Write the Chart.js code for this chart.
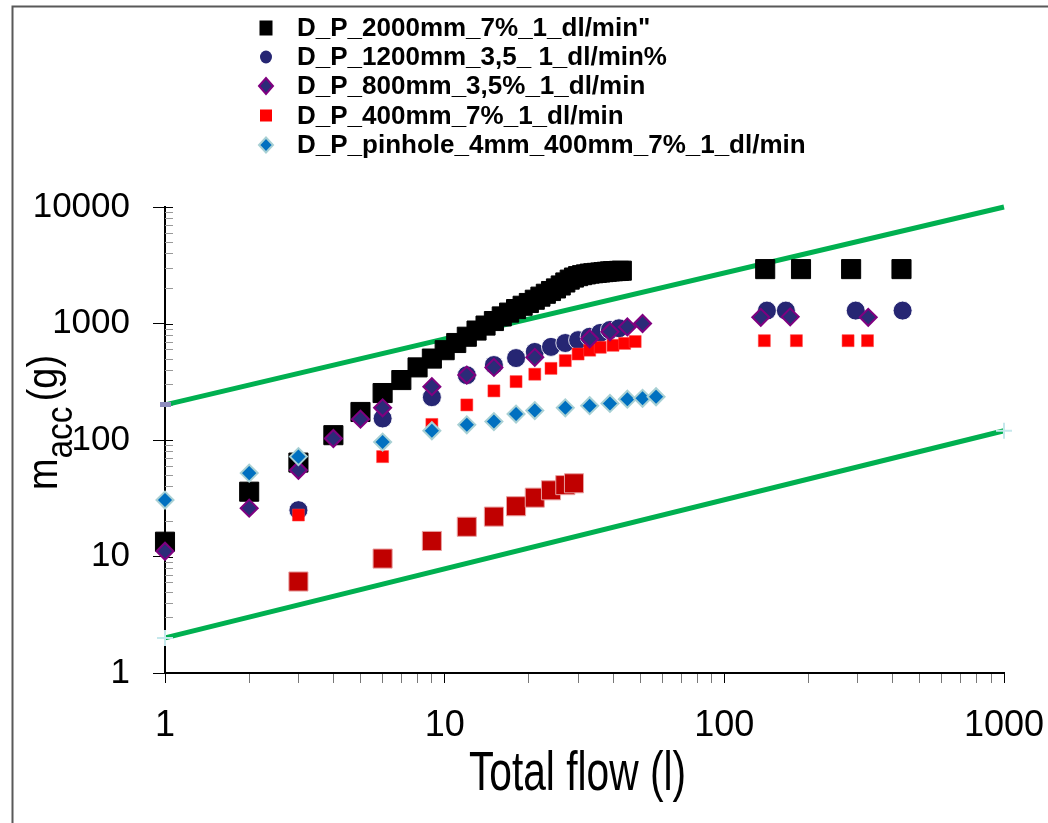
<!DOCTYPE html>
<html>
<head>
<meta charset="utf-8">
<script src="https://cdn.jsdelivr.net/npm/chart.js@4.4.1/dist/chart.umd.min.js"></script>
<style>html,body{margin:0;padding:0;background:#ffffff;}canvas{display:block;}</style>
</head>
<body>
<canvas id="c" width="1048" height="823"></canvas>
<script>
// ---------- data ----------
const seriesNames = [
  'D_P_2000mm_7%_1_dl/min"',
  'D_P_1200mm_3,5_ 1_dl/min%',
  'D_P_800mm_3,5%_1_dl/min',
  'D_P_400mm_7%_1_dl/min',
  'D_P_pinhole_4mm_400mm_7%_1_dl/min'
];
const xTitle = 'Total flow (l)';

const x2000 = [1,2,3,4,5,6,7,8,9,10,11,12,13,14,15,16,17,18,19,20,21,22,23,24,25,26,27,28,29,30,31,32,33,34,35,36,37,38,39,40,41,42,43,140,188,284,430];
const y2000 = [13.4,36,64,110,174,253,327,420,500,590,680,770,870,960,1050,1150,1240,1330,1420,1500,1600,1700,1800,1900,2000,2120,2250,2380,2480,2550,2600,2640,2680,2700,2720,2740,2760,2780,2800,2810,2820,2830,2840,2930,2930,2930,2930];

const x1200 = [3,6,9,12,15,18,21,24,27,30,33,36,39,42,142,166,295,434];
const y1200 = [25,153,233,360,440,505,570,630,680,720,770,830,880,910,1290,1290,1290,1290];

const x800 = [1,2,3,4,5,6,9,12,15,21,33,39,45,51,135,172,327];
const y800 = [11.1,26,55,103,151,189,287,361,420,512,740,850,935,1000,1130,1140,1130];

const x400 = [3,6,9,12,15,18,21,24,27,30,33,36,40,44,48,139,181,277,325];
const y400 = [22.7,72,136,200,264,317,367,412,480,547,590,625,650,675,700,712,712,712,712];

const xPinhole = [1,2,3,6,9,12,15,18,21,27,33,39,45,51,57];
const yPinhole = [30.5,52,72,96,120,135,144,167,179,189,197,206,224,228,235];

const xExtra = [3,6,9,12,15,18,21,24,27,29];
const yExtra = [6.1,9.6,13.6,18,22,27,32,37,41,42.5];

const xUpperLine = [1,1000];
const yUpperLine = [200,10000];
const xLowerLine = [1,1000];
const yLowerLine = [2,120];

const xTickValues = [1,2,3,4,5,6,7,8,9,10,20,30,40,50,60,70,80,90,100,200,300,400,500,600,700,800,900,1000];
const yTickValues = [1,2,3,4,5,6,7,8,9,10,20,30,40,50,60,70,80,90,100,200,300,400,500,600,700,800,900,1000,2000,3000,4000,5000,6000,7000,8000,9000,10000];
const xTickLabels = ['1','10','100','1000'];
const yTickLabels = ['1','10','100','1000','10000'];

// ---------- helpers ----------
const FONT = '"Liberation Sans", Arial, Helvetica, sans-serif';
function pts(xs, ys){ return xs.map((x,i)=>({x:x, y:ys[i]})); }
function isMajor(v){ const l = Math.log10(v); return Math.abs(l - Math.round(l)) < 1e-9; }
function labelFor(v, labels){ const s = String(Math.round(v)); return labels.includes(s) ? s : ''; }

const upperMarker = document.createElement('canvas');
upperMarker.width = 11; upperMarker.height = 5;
(function(){ const g = upperMarker.getContext('2d'); g.fillStyle = '#8E8EBE'; g.fillRect(0,0,11,5); })();

const framePlugin = {
  id: 'frame',
  beforeDraw(chart){
    const ctx = chart.ctx;
    ctx.save();
    ctx.strokeStyle = '#595959'; ctx.lineWidth = 2;
    ctx.beginPath();
    ctx.moveTo(12.5, 823); ctx.lineTo(12.5, 6.5); ctx.lineTo(1048, 6.5);
    ctx.stroke();
    ctx.restore();
  }
};

const innerTicksPlugin = {
  id: 'innerTicks',
  beforeDatasetsDraw(chart){
    const ctx = chart.ctx, ys = chart.scales.y, left = chart.chartArea.left;
    ctx.save();
    ys.ticks.forEach(t => {
      const p = Math.round(ys.getPixelForValue(t.value)) + 0.5;
      ctx.strokeStyle = isMajor(t.value) ? '#000' : '#999';
      ctx.lineWidth = 1;
      ctx.beginPath(); ctx.moveTo(left, p); ctx.lineTo(left + 8, p); ctx.stroke();
    });
    ctx.restore();
  }
};

const titlesPlugin = {
  id: 'titles',
  afterDraw(chart){
    const ctx = chart.ctx;
    // x title (condensed)
    ctx.save();
    ctx.fillStyle = '#000';
    ctx.translate(577.5, 790);
    ctx.scale(0.74, 1);
    ctx.font = '55px ' + FONT;
    ctx.textAlign = 'center'; ctx.textBaseline = 'alphabetic';
    ctx.fillText(xTitle, 0, 0);
    ctx.restore();
    // y title: m_acc (g)
    ctx.save();
    ctx.fillStyle = '#000';
    ctx.translate(57, 490);
    ctx.rotate(-Math.PI/2);
    const fMain = '42px ' + FONT, fSub = '37px ' + FONT;
    ctx.font = fMain; const wm = ctx.measureText('m').width;
    ctx.font = fSub; const wa = ctx.measureText('acc').width;
    ctx.font = fMain; const wg = ctx.measureText('(g)').width;
    const gap = 6;
    const s = 135 / (wm + wa + gap + wg);
    ctx.scale(s, 1);
    ctx.textAlign = 'left'; ctx.textBaseline = 'alphabetic';
    ctx.font = fMain; ctx.fillText('m', 0, 0);
    ctx.font = fSub; ctx.fillText('acc', wm, 15);
    ctx.font = fMain; ctx.fillText('(g)', wm + wa + gap, 0);
    ctx.restore();
  }
};

const legendPlugin = {
  id: 'customLegend',
  afterDraw(chart){
    const ctx = chart.ctx;
    const mx = 266, tx = 297;
    const rows = [28, 57, 86, 115.5, 145];
    const markers = [
      (x,y)=>{ ctx.fillStyle='#000'; ctx.fillRect(x-6.5, y-7.5, 13, 15); },
      (x,y)=>{ ctx.fillStyle='#262673'; ctx.beginPath(); ctx.ellipse(x, y, 6, 6.5, 0, 0, Math.PI*2); ctx.fill(); },
      (x,y)=>{ ctx.fillStyle='#2B2B78'; ctx.strokeStyle='#800080'; ctx.lineWidth=2;
               ctx.beginPath(); ctx.moveTo(x-7,y); ctx.lineTo(x,y-8); ctx.lineTo(x+7,y); ctx.lineTo(x,y+8); ctx.closePath(); ctx.fill(); ctx.stroke(); },
      (x,y)=>{ ctx.fillStyle='#FF0000'; ctx.fillRect(x-6, y-6, 12, 12); },
      (x,y)=>{ ctx.fillStyle='#0070C0'; ctx.strokeStyle='#A8D0D4'; ctx.lineWidth=2;
               ctx.beginPath(); ctx.moveTo(x-7,y); ctx.lineTo(x,y-7.5); ctx.lineTo(x+7,y); ctx.lineTo(x,y+7.5); ctx.closePath(); ctx.fill(); ctx.stroke(); }
    ];
    ctx.save();
    seriesNames.forEach((name, i) => {
      markers[i](mx, rows[i]);
      ctx.fillStyle = '#000';
      ctx.font = 'bold 26px ' + FONT;
      ctx.textAlign = 'left'; ctx.textBaseline = 'middle';
      ctx.fillText(name, tx, rows[i] + 1);
    });
    ctx.restore();
  }
};

new Chart(document.getElementById('c'), {
  type: 'scatter',
  data: {
    datasets: [
      { label: seriesNames[4], data: pts(xPinhole, yPinhole), order: 1, clip: false,
        pointStyle: 'rectRot', pointRadius: 8.5, backgroundColor: '#0070C0', borderColor: '#A8D0D4', borderWidth: 2 },
      { label: seriesNames[2], data: pts(x800, y800), order: 2, clip: false,
        pointStyle: 'rectRot', pointRadius: 8.5, backgroundColor: '#2B2B78', borderColor: '#800080', borderWidth: 2 },
      { label: seriesNames[3], data: pts(x400, y400), order: 3, clip: false,
        pointStyle: 'rect', pointRadius: 8.5, backgroundColor: '#FF0000', borderColor: '#FF4040', borderWidth: 0.5 },
      { label: seriesNames[1], data: pts(x1200, y1200), order: 4, clip: false,
        pointStyle: 'circle', pointRadius: 9.5, backgroundColor: '#262673', borderColor: 'rgba(255,255,255,0.85)', borderWidth: 1 },
      { label: seriesNames[0], data: pts(x2000, y2000), order: 5, clip: false,
        pointStyle: 'rect', pointRadius: 13.5, backgroundColor: '#000000', borderColor: '#000000', borderWidth: 1 },
      { label: 'extra', data: pts(xExtra, yExtra), order: 6, clip: false,
        pointStyle: 'rect', pointRadius: 13.5, backgroundColor: '#C00000', borderColor: '#E8A0A0', borderWidth: 1 },
      { label: 'upper', data: pts(xUpperLine, yUpperLine), order: 7, clip: false, showLine: true,
        borderColor: '#00B050', borderWidth: 5, pointStyle: upperMarker, pointRadius: [5, 0],
        pointBackgroundColor: '#8E8EBE', pointBorderWidth: 0 },
      { label: 'lower', data: pts(xLowerLine, yLowerLine), order: 8, clip: false, showLine: true,
        borderColor: '#00B050', borderWidth: 5, pointStyle: 'cross', pointRadius: 8,
        pointBorderColor: '#C5E8EC', pointBorderWidth: 2 }
    ]
  },
  options: {
    responsive: false,
    animation: false,
    events: [],
    layout: { padding: { top: 207, right: 44, left: 0, bottom: 0 } },
    plugins: { legend: { display: false }, tooltip: { enabled: false }, title: { display: false } },
    scales: {
      x: {
        type: 'logarithmic', min: 1, max: 1000, position: 'bottom',
        afterBuildTicks(scale){ scale.ticks = xTickValues.map(v => ({ value: v, major: isMajor(v) })); },
        afterFit(scale){ scale.height = 150; scale.paddingRight = 0; scale.paddingLeft = 0; },
        grid: { drawOnChartArea: false, drawTicks: true, tickLength: 10, tickWidth: 1,
                tickColor: c => (c.tick && isMajor(c.tick.value)) ? '#000' : '#777' },
        border: { display: true, color: '#000', width: 2 },
        ticks: { autoSkip: false, maxRotation: 0, minRotation: 0, padding: 21, color: '#000',
                 font: { family: FONT, size: 36 },
                 callback: v => labelFor(v, xTickLabels) },
        title: { display: false }
      },
      y: {
        type: 'logarithmic', min: 1, max: 10000, position: 'left',
        afterBuildTicks(scale){ scale.ticks = yTickValues.map(v => ({ value: v, major: isMajor(v) })); },
        afterFit(scale){ scale.width = 165; scale.paddingTop = 0; scale.paddingBottom = 0; },
        grid: { drawOnChartArea: false, drawTicks: true, tickLength: 12, tickWidth: 1,
                tickColor: c => (c.tick && isMajor(c.tick.value)) ? '#000' : 'rgba(0,0,0,0)' },
        border: { display: true, color: '#000', width: 2 },
        ticks: { autoSkip: false, padding: 23, color: '#000',
                 font: { family: FONT, size: 35 },
                 callback: v => labelFor(v, yTickLabels) },
        title: { display: false }
      }
    }
  },
  plugins: [framePlugin, innerTicksPlugin, titlesPlugin, legendPlugin]
});
</script>
</body>
</html>
